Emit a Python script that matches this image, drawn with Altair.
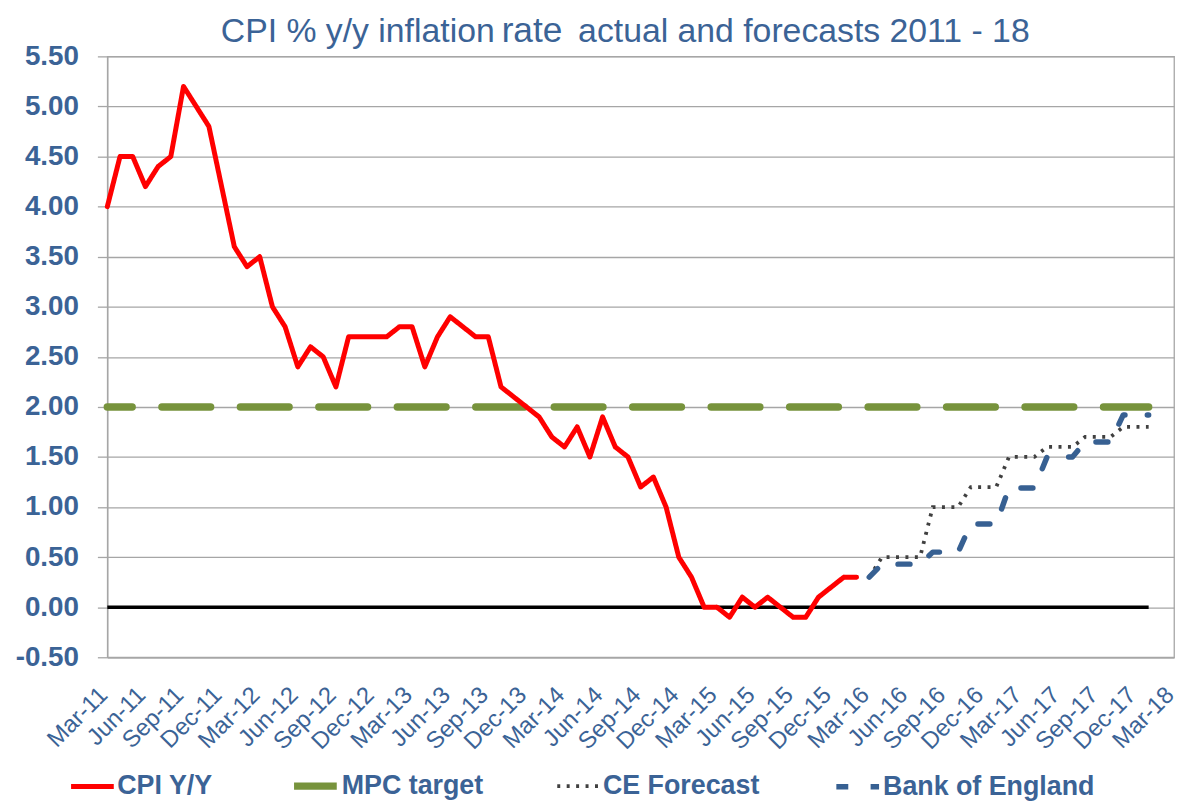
import altair as alt
import pandas as pd

# ---------------- data ----------------
months = [
    "Mar-11", "Apr-11", "May-11", "Jun-11", "Jul-11", "Aug-11", "Sep-11", "Oct-11", "Nov-11", "Dec-11",
    "Jan-12", "Feb-12", "Mar-12", "Apr-12", "May-12", "Jun-12", "Jul-12", "Aug-12", "Sep-12", "Oct-12", "Nov-12", "Dec-12",
    "Jan-13", "Feb-13", "Mar-13", "Apr-13", "May-13", "Jun-13", "Jul-13", "Aug-13", "Sep-13", "Oct-13", "Nov-13", "Dec-13",
    "Jan-14", "Feb-14", "Mar-14", "Apr-14", "May-14", "Jun-14", "Jul-14", "Aug-14", "Sep-14", "Oct-14", "Nov-14", "Dec-14",
    "Jan-15", "Feb-15", "Mar-15", "Apr-15", "May-15", "Jun-15", "Jul-15", "Aug-15", "Sep-15", "Oct-15", "Nov-15", "Dec-15",
    "Jan-16", "Feb-16", "Mar-16", "Apr-16", "May-16", "Jun-16", "Jul-16", "Aug-16", "Sep-16", "Oct-16", "Nov-16", "Dec-16",
    "Jan-17", "Feb-17", "Mar-17", "Apr-17", "May-17", "Jun-17", "Jul-17", "Aug-17", "Sep-17", "Oct-17", "Nov-17", "Dec-17",
    "Jan-18", "Feb-18", "Mar-18",
]

xtick_labels = [
    "Mar-11", "Jun-11", "Sep-11", "Dec-11", "Mar-12", "Jun-12", "Sep-12", "Dec-12",
    "Mar-13", "Jun-13", "Sep-13", "Dec-13", "Mar-14", "Jun-14", "Sep-14", "Dec-14",
    "Mar-15", "Jun-15", "Sep-15", "Dec-15", "Mar-16", "Jun-16", "Sep-16", "Dec-16",
    "Mar-17", "Jun-17", "Sep-17", "Dec-17", "Mar-18",
]

y_ticks = [-0.5, 0.0, 0.5, 1.0, 1.5, 2.0, 2.5, 3.0, 3.5, 4.0, 4.5, 5.0, 5.5]

# CPI actual, Mar-11 .. Feb-16
cpi_values = [
    4.0, 4.5, 4.5, 4.2, 4.4, 4.5, 5.2, 5.0, 4.8, 4.2,
    3.6, 3.4, 3.5, 3.0, 2.8, 2.4, 2.6, 2.5, 2.2, 2.7, 2.7, 2.7,
    2.7, 2.8, 2.8, 2.4, 2.7, 2.9, 2.8, 2.7, 2.7, 2.2, 2.1, 2.0,
    1.9, 1.7, 1.6, 1.8, 1.5, 1.9, 1.6, 1.5, 1.2, 1.3, 1.0, 0.5,
    0.3, 0.0, 0.0, -0.1, 0.1, 0.0, 0.1, 0.0, -0.1, -0.1, 0.1, 0.2,
    0.3, 0.3,
]

# forecasts, Mar-16 .. Jan-18
ce_values = [
    0.3, 0.5, 0.5, 0.5, 0.5, 1.0, 1.0, 1.0, 1.2, 1.2,
    1.2, 1.5, 1.5, 1.5, 1.6, 1.6, 1.6, 1.7, 1.7, 1.7, 1.8, 1.8,
    1.8,
]
boe_values = [
    0.3, 0.43, 0.43, 0.43, 0.43, 0.55, 0.55, 0.55, 0.83, 0.83,
    0.83, 1.19, 1.19, 1.19, 1.5, 1.5, 1.5, 1.65, 1.65, 1.65, 1.92, 1.92,
    1.92,
]

# MPC target and zero line: from Mar-11 to Jan-18
line_ends = ["Mar-11", "Jan-18"]
mpc_values = [2.0, 2.0]
zero_values = [0.0, 0.0]

series_names = ["CPI Y/Y", "MPC target", "CE Forecast", "Bank of England"]
series_colors = ["#FF0000", "#77933C", "#404040", "#376092"]
series_dashes = [[1, 0], [49, 30], [3, 6.5], [12, 22.5]]
series_widths = [5, 7.5, 3.8, 5.5]

title_parts = ["CPI % y/y inflation", "rate", "actual and forecasts 2011 - 18"]

# ---------------- build ----------------
cpi_df = pd.DataFrame({"month": months[:len(cpi_values)], "value": cpi_values, "series": series_names[0]})
mpc_df = pd.DataFrame({"month": line_ends, "value": mpc_values, "series": series_names[1]})
ce_start = months.index("Mar-16")
ce_df = pd.DataFrame({"month": months[ce_start:ce_start + len(ce_values)], "value": ce_values, "series": series_names[2]})
boe_df = pd.DataFrame({"month": months[ce_start:ce_start + len(boe_values)], "value": boe_values, "series": series_names[3]})
zero_df = pd.DataFrame({"month": line_ends, "value": zero_values})

TEXT = "#3B6396"
GRID = "#A6A6A6"
FONT = "Liberation Sans"

x_enc = alt.X(
    "month:O",
    scale=alt.Scale(type="point", domain=months, padding=0),
    axis=alt.Axis(
        values=xtick_labels, labelAngle=-45, labelAlign="right", labelBaseline="middle",
        labelFont=FONT, labelFontSize=24, labelColor=TEXT, labelPadding=34, labelOffset=-4,
        ticks=False, grid=False, domainColor=GRID, domainWidth=1.3, title=None,
        labelOverlap=False,
    ),
)
y_enc = alt.Y(
    "value:Q",
    scale=alt.Scale(domain=[-0.5, 5.5], nice=False, zero=False),
    axis=alt.Axis(
        values=y_ticks,
        labelExpr="datum.value < 0 ? '-' + format(-datum.value, '.2f') : format(datum.value, '.2f')",
        labelFont=FONT, labelFontSize=28, labelFontWeight="bold", labelColor=TEXT,
        tickSize=10, tickColor=GRID, tickWidth=1.3, labelPadding=19,
        grid=True, gridColor=GRID, gridWidth=1.3, domainColor=GRID, domainWidth=1.3,
        title=None,
    ),
)

legend = alt.Legend(
    title=None, orient="none", legendX=-39, legendY=709, direction="horizontal",
    symbolType="stroke", symbolSize=1849, labelFont=FONT, labelFontSize=27,
    labelFontWeight="bold", labelColor=TEXT, labelOffset=1, columnPadding=66,
    padding=0, labelLimit=400,
)
color_enc = alt.Color("series:N", scale=alt.Scale(domain=series_names, range=series_colors), legend=legend)
dash_enc = alt.StrokeDash("series:N", scale=alt.Scale(domain=series_names, range=series_dashes), legend=legend)
width_enc = alt.StrokeWidth("series:N", scale=alt.Scale(type="ordinal", domain=series_names, range=series_widths), legend=legend)


def series_layer(df, **mark_kw):
    return alt.Chart(df).mark_line(**mark_kw).encode(
        x=x_enc, y=y_enc, color=color_enc, strokeDash=dash_enc, strokeWidth=width_enc
    )


zero_layer = alt.Chart(zero_df).mark_line(color="black", strokeWidth=3.5).encode(x=x_enc, y=y_enc)
mpc_layer = series_layer(mpc_df, strokeCap="round", strokeDashOffset=24)
cpi_layer = series_layer(cpi_df, strokeCap="round", strokeJoin="round")
ce_layer = series_layer(ce_df, strokeCap="butt")
boe_layer = series_layer(boe_df, strokeCap="round", strokeJoin="round")

TITLE_Y = -14
t1 = alt.Chart(pd.DataFrame({"t": [title_parts[0]]})).mark_text(
    align="right", baseline="alphabetic", font=FONT, fontSize=34, color=TEXT
).encode(x=alt.value(390), y=alt.value(TITLE_Y), text="t:N")
t2 = alt.Chart(pd.DataFrame({"t": [title_parts[1]]})).mark_text(
    align="left", baseline="alphabetic", font=FONT, fontSize=35.5, color=TEXT
).encode(x=alt.value(397), y=alt.value(TITLE_Y), text="t:N")
t3 = alt.Chart(pd.DataFrame({"t": [title_parts[2]]})).mark_text(
    align="left", baseline="alphabetic", font=FONT, fontSize=34, color=TEXT
).encode(x=alt.value(474), y=alt.value(TITLE_Y), text="t:N")

chart = alt.layer(
    zero_layer, mpc_layer, cpi_layer, ce_layer, boe_layer, t1, t2, t3
).properties(
    width=1074, height=605,
    autosize=alt.AutoSizeParams(type="none"),
    padding={"left": 100, "top": 46, "right": 7, "bottom": 142},
    background="white",
).configure_view(
    stroke=GRID, strokeWidth=1.3
)

chart.save("out.html", embed_options={"renderer": "svg", "actions": False})
